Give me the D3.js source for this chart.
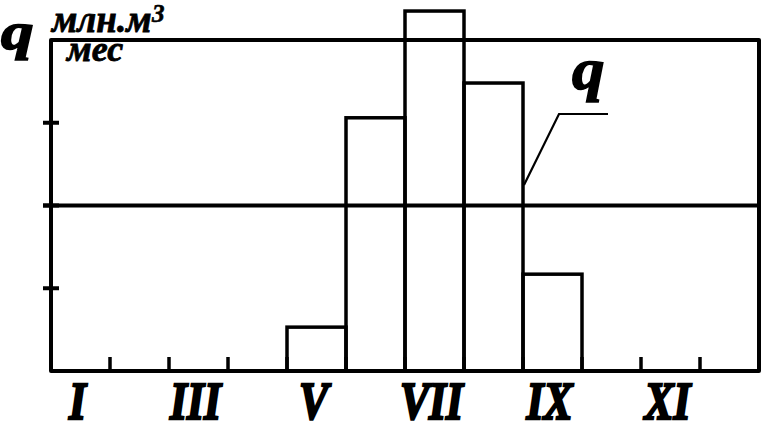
<!DOCTYPE html>
<html><head><meta charset="utf-8">
<script src="https://cdn.jsdelivr.net/npm/d3@7/dist/d3.min.js"></script>
<style>
html,body{margin:0;padding:0;background:#fff;}
svg{display:block;}
text{font-family:"Liberation Serif","Times New Roman",serif;font-weight:bold;font-style:italic;fill:#000;stroke:#000;}
</style></head>
<body>
<script>
// Data
const months = ["I","II","III","IV","V","VI","VII","VIII","IX","X","XI","XII"];
const flow = [0,0,0,0,0.53,3.06,4.35,3.48,1.17,0,0,0];
const yTicks = [1,2,3];
const meanQ = [2];
const xLabels = ["I","III","V","VII","IX","XI"];
const unitTop = "млн.м";
const unitSup = "3";
const unitBottom = "мес";
const qLabel = "q";

const W = 776, H = 430;
const svg = d3.select("body").append("svg").attr("width", W).attr("height", H);

const x = d3.scaleBand().domain(months).range([51, 759]).paddingInner(0).paddingOuter(0);
const y = d3.scaleLinear().domain([0, 4]).range([371, 40]);

// bars (outline only)
svg.append("g").selectAll("rect").data(months.map((m,i)=>({m, v: flow[i]})).filter(d=>d.v>0))
  .enter().append("rect")
  .attr("x", d => x(d.m)).attr("width", x.bandwidth())
  .attr("y", d => y(d.v)).attr("height", d => y(0) - y(d.v))
  .attr("fill", "none").attr("stroke", "#000").attr("stroke-width", 3.5);

// frame
svg.append("rect").attr("x", 51).attr("y", y(4)).attr("width", 759-51).attr("height", y(0)-y(4))
  .attr("fill","none").attr("stroke","#000").attr("stroke-width",4).attr("stroke-linejoin","round");

// left ticks
svg.append("g").selectAll("line").data(yTicks).enter().append("line")
  .attr("x1", 43).attr("x2", 59).attr("y1", d=>y(d)).attr("y2", d=>y(d))
  .attr("stroke","#000").attr("stroke-width",4);

// mean line
svg.append("g").selectAll("line").data(meanQ).enter().append("line")
  .attr("x1", 43).attr("x2", 759).attr("y1", d=>y(d)).attr("y2", d=>y(d))
  .attr("stroke","#000").attr("stroke-width",4);

// bottom ticks at month boundaries
svg.append("g").selectAll("line").data(months.slice(1)).enter().append("line")
  .attr("x1", d=>x(d)).attr("x2", d=>x(d)).attr("y1", y(0)).attr("y2", y(0)-14)
  .attr("stroke","#000").attr("stroke-width",3.5);

// x labels
svg.append("g").selectAll("text").data(xLabels).enter().append("text")
  .attr("transform", d => `translate(${x(d)+x.bandwidth()/2-3},419) scale(0.84,1)`)
  .attr("text-anchor","middle").attr("font-size",52).attr("stroke-width",2.4).text(d=>d);

// leader line for q
const xq = x("IX");
svg.append("path")
  .attr("d", `M${xq+1},${185} L${xq+36},${114} L${xq+85},${114}`)
  .attr("fill","none").attr("stroke","#000").attr("stroke-width",2.2);
svg.append("text").attr("transform","translate(572,89) scale(1.1,1)").attr("font-size",59)
  .attr("stroke-width",1.5).text(qLabel);

// y label
svg.append("text").attr("transform","translate(1,49) scale(1.25,1)").attr("font-size",52)
  .attr("stroke-width",1.6).text(qLabel);
svg.append("text").attr("x", 52).attr("y", 32).attr("font-size",37).attr("stroke-width",0.8).text(unitTop);
svg.append("text").attr("x", 152).attr("y", 22).attr("font-size",25).attr("stroke-width",0.6).text(unitSup);
svg.append("text").attr("x", 67).attr("y", 61).attr("font-size",36).attr("stroke-width",0.8).text(unitBottom);
</script>
</body></html>
